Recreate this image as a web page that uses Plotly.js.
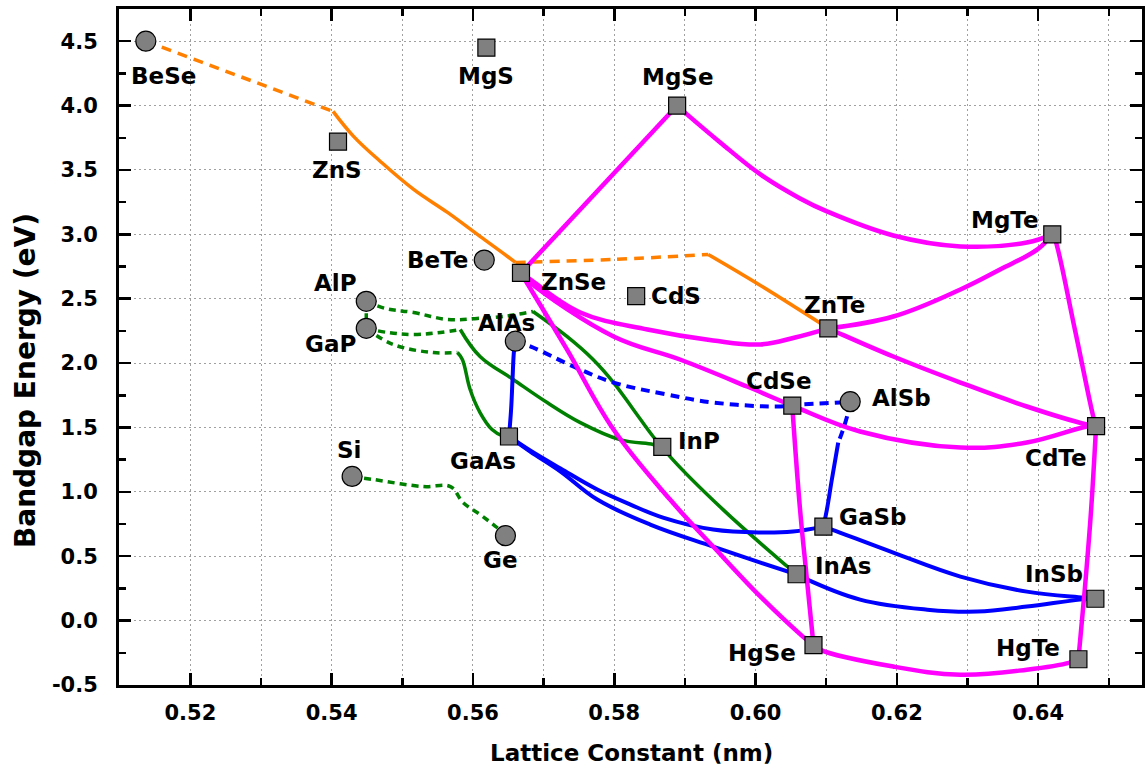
<!DOCTYPE html>
<html>
<head>
<meta charset="utf-8">
<script src="https://cdn.plot.ly/plotly-3.0.1.min.js"></script>
<style>
  html, body { margin: 0; padding: 0; background: #fff; }
  #chart { width: 1146px; height: 772px; }
</style>
</head>
<body>
<div id="chart"></div>
<script>
// Binary semiconductors: lattice constant (nm) and bandgap (eV)
const circleNames = ['BeSe', 'BeTe', 'AlP', 'GaP', 'AlAs', 'AlSb', 'Si', 'Ge'];
const circleA     = [0.5137, 0.5616, 0.5449, 0.5449, 0.5660, 0.6134, 0.5429, 0.5646];
const circleEg    = [4.50, 2.80, 2.48, 2.27, 2.17, 1.70, 1.12, 0.66];

const squareNames = ['ZnS', 'MgS', 'MgSe', 'MgTe', 'ZnSe', 'CdS', 'ZnTe', 'CdSe',
                     'CdTe', 'GaAs', 'InP', 'GaSb', 'InAs', 'InSb', 'HgSe', 'HgTe'];
const squareA     = [0.5409, 0.5619, 0.5889, 0.6420, 0.5668, 0.5831, 0.6103, 0.6052,
                     0.6482, 0.5651, 0.5868, 0.6096, 0.6058, 0.6481, 0.6082, 0.6457];
const squareEg    = [3.72, 4.45, 4.00, 3.00, 2.70, 2.52, 2.27, 1.67,
                     1.51, 1.43, 1.35, 0.73, 0.36, 0.17, -0.19, -0.30];

// Ternary alloy curves (dashed parts = indirect gap)
// Be/Zn chalcogenides
const beseZnsDashA  = [0.5137, 0.5402];
const beseZnsDashEg = [4.50, 3.955];
const znsZnseA  = [0.5402, 0.5431, 0.5469, 0.5516, 0.5564, 0.5610, 0.5649, 0.5660];
const znsZnseEg = [3.955, 3.761, 3.566, 3.349, 3.170, 2.984, 2.828, 2.782];
const znseZnteDashA  = [0.5660, 0.5799, 0.5933];
const znseZnteDashEg = [2.782, 2.805, 2.844];
const znseZnteA  = [0.5933, 0.6007, 0.6103];
const znseZnteEg = [2.844, 2.603, 2.27];

// III-phosphides / arsenides and Si-Ge
const alpGapA  = [0.5449, 0.5449];
const alpGapEg = [2.48, 2.27];
const alpInpDashA  = [0.5449, 0.5476, 0.5516, 0.5564, 0.5606, 0.5643, 0.5685];
const alpInpDashEg = [2.48, 2.424, 2.393, 2.339, 2.347, 2.362, 2.401];
const alpInpA  = [0.5685, 0.5733, 0.5770, 0.5799, 0.5827, 0.5855, 0.5868];
const alpInpEg = [2.401, 2.207, 2.028, 1.849, 1.640, 1.430, 1.35];
const gapInpDashA  = [0.5449, 0.5479, 0.5516, 0.5554, 0.5582];
const gapInpDashEg = [2.27, 2.238, 2.222, 2.238, 2.261];
const gapInpA  = [0.5582, 0.5610, 0.5657, 0.5705, 0.5752, 0.5808, 0.5855, 0.5868];
const gapInpEg = [2.261, 2.051, 1.873, 1.694, 1.538, 1.406, 1.368, 1.35];
const gapGaasDashA  = [0.5449, 0.5487, 0.5544, 0.5578];
const gapGaasDashEg = [2.27, 2.145, 2.082, 2.082];
const gapGaasA  = [0.5578, 0.5585, 0.5596, 0.5610, 0.5627, 0.5643, 0.5651];
const gapGaasEg = [2.082, 2.028, 1.795, 1.616, 1.484, 1.432, 1.43];
const inpInasA  = [0.5868, 0.5879, 0.5954, 0.6045, 0.6058];
const inpInasEg = [1.35, 1.274, 0.862, 0.420, 0.36];
const siGeDashA  = [0.5429, 0.5459, 0.5530, 0.5568, 0.5586, 0.5610, 0.5634, 0.5646];
const siGeDashEg = [1.12, 1.096, 1.041, 1.041, 0.917, 0.824, 0.723, 0.66];

// Arsenides / antimonides
const alasGaasA  = [0.5660, 0.5658, 0.5656, 0.5654, 0.5651];
const alasGaasEg = [2.17, 2.090, 1.873, 1.640, 1.43];
const alasAlsbDashA  = [0.5660, 0.5685, 0.5742, 0.5799, 0.5875, 0.5940, 0.6035, 0.6063, 0.6120, 0.6134];
const alasAlsbDashEg = [2.17, 2.121, 1.974, 1.849, 1.756, 1.694, 1.663, 1.678, 1.694, 1.70];
const alsbGasbDashA  = [0.6134, 0.6131, 0.6123, 0.6117];
const alsbGasbDashEg = [1.70, 1.616, 1.469, 1.383];
const alsbGasbA  = [0.6117, 0.6108, 0.6101, 0.6096];
const alsbGasbEg = [1.383, 1.096, 0.862, 0.73];
const gaasInasA  = [0.5651, 0.5681, 0.5724, 0.5776, 0.5851, 0.5940, 0.6007, 0.6058];
const gaasInasEg = [1.43, 1.313, 1.158, 0.940, 0.746, 0.575, 0.451, 0.36];
const gaasGasbA  = [0.5651, 0.5681, 0.5724, 0.5776, 0.5823, 0.5869, 0.5940, 0.6007, 0.6053, 0.6096];
const gaasGasbEg = [1.43, 1.321, 1.181, 1.018, 0.901, 0.800, 0.707, 0.684, 0.692, 0.73];
const gasbInsbA  = [0.6096, 0.6108, 0.6195, 0.6290, 0.6384, 0.6464, 0.6481];
const gasbInsbEg = [0.73, 0.707, 0.528, 0.342, 0.225, 0.179, 0.17];
const inasInsbA  = [0.6058, 0.6067, 0.6148, 0.6243, 0.6314, 0.6384, 0.6459, 0.6481];
const inasInsbEg = [0.36, 0.334, 0.163, 0.085, 0.070, 0.109, 0.163, 0.17];

// II-VI (Zn, Mg, Cd, Hg chalcogenides)
const znseMgseA  = [0.5668, 0.5889];
const znseMgseEg = [2.70, 4.00];
const mgseMgteA  = [0.5889, 0.5903, 0.5950, 0.6007, 0.6063, 0.6101, 0.6195, 0.6290, 0.6384, 0.6420];
const mgseMgteEg = [4.00, 3.932, 3.714, 3.465, 3.279, 3.178, 2.991, 2.906, 2.937, 3.00];
const znseZnteBowA  = [0.5668, 0.5681, 0.5752, 0.5847, 0.5940, 0.6007, 0.6056, 0.6103];
const znseZnteBowEg = [2.70, 2.650, 2.393, 2.261, 2.176, 2.145, 2.199, 2.27];
const znteMgteA  = [0.6103, 0.6195, 0.6290, 0.6346, 0.6399, 0.6420];
const znteMgteEg = [2.27, 2.362, 2.572, 2.727, 2.883, 3.00];
const znseCdteA  = [0.5668, 0.5681, 0.5799, 0.5893, 0.5988, 0.6052, 0.6148, 0.6290, 0.6384, 0.6469, 0.6482];
const znseCdteEg = [2.70, 2.626, 2.207, 2.028, 1.818, 1.67, 1.469, 1.344, 1.383, 1.507, 1.51];
const znteCdteA  = [0.6103, 0.6116, 0.6195, 0.6290, 0.6384, 0.6469, 0.6482];
const znteCdteEg = [2.27, 2.238, 2.051, 1.849, 1.663, 1.523, 1.51];
const mgteCdteA  = [0.6420, 0.6424, 0.6452, 0.6478, 0.6482];
const mgteCdteEg = [3.00, 2.960, 2.261, 1.585, 1.51];
const cdteHgteA  = [0.6482, 0.6475, 0.6466, 0.6457];
const cdteHgteEg = [1.51, 0.862, 0.241, -0.30];
const cdseHgseA  = [0.6052, 0.6053, 0.6063, 0.6072, 0.6082];
const cdseHgseEg = [1.67, 1.585, 0.862, 0.357, -0.19];
const znseHgseA  = [0.5668, 0.5733, 0.5799, 0.5879, 0.5940, 0.6007, 0.6067, 0.6082];
const znseHgseEg = [2.70, 2.106, 1.484, 0.940, 0.575, 0.186, -0.124, -0.19];
const hgseHgteA  = [0.6082, 0.6091, 0.6195, 0.6290, 0.6384, 0.6445, 0.6457];
const hgseHgteEg = [-0.19, -0.225, -0.357, -0.420, -0.381, -0.326, -0.30];

// Axis ticks
const xTickVals = [0.52, 0.54, 0.56, 0.58, 0.60, 0.62, 0.64];
const xTickText = ['0.52', '0.54', '0.56', '0.58', '0.60', '0.62', '0.64'];
const yTickVals = [-0.5, 0.0, 0.5, 1.0, 1.5, 2.0, 2.5, 3.0, 3.5, 4.0, 4.5];
const yTickText = ['-0.5', '0.0', '0.5', '1.0', '1.5', '2.0', '2.5', '3.0', '3.5', '4.0', '4.5'];

// ---- styling ----
const ORANGE = '#ff8000', GREEN = '#008000', BLUE = '#0000ff', MAGENTA = '#ff00ff';
const DASH = { orange: '10px,7px', green: '7px,5px', blue: '9px,6px' };

function curve(x, y, color, width, dash) {
  return {
    x: x, y: y, type: 'scatter', mode: 'lines', hoverinfo: 'skip', showlegend: false,
    line: { color: color, width: width, dash: dash || 'solid', shape: 'spline', smoothing: 1.1 }
  };
}

const traces = [
  curve(siGeDashA, siGeDashEg, GREEN, 3.5, DASH.green),
  curve(alpGapA, alpGapEg, GREEN, 3.5, DASH.green),
  curve(alpInpDashA, alpInpDashEg, GREEN, 3.5, DASH.green),
  curve(alpInpA, alpInpEg, GREEN, 3.5),
  curve(gapInpDashA, gapInpDashEg, GREEN, 3.5, DASH.green),
  curve(gapInpA, gapInpEg, GREEN, 3.5),
  curve(gapGaasDashA, gapGaasDashEg, GREEN, 3.5, DASH.green),
  curve(gapGaasA, gapGaasEg, GREEN, 3.5),
  curve(inpInasA, inpInasEg, GREEN, 3.5),

  curve(alasGaasA, alasGaasEg, BLUE, 4),
  curve(alasAlsbDashA, alasAlsbDashEg, BLUE, 4, DASH.blue),
  curve(alsbGasbDashA, alsbGasbDashEg, BLUE, 4, DASH.blue),
  curve(alsbGasbA, alsbGasbEg, BLUE, 4),
  curve(gaasInasA, gaasInasEg, BLUE, 4),
  curve(gaasGasbA, gaasGasbEg, BLUE, 4),
  curve(gasbInsbA, gasbInsbEg, BLUE, 4),
  curve(inasInsbA, inasInsbEg, BLUE, 4),

  curve(beseZnsDashA, beseZnsDashEg, ORANGE, 3.5, DASH.orange),
  curve(znsZnseA, znsZnseEg, ORANGE, 3.5),
  curve(znseZnteDashA, znseZnteDashEg, ORANGE, 3.5, DASH.orange),
  curve(znseZnteA, znseZnteEg, ORANGE, 3.5),

  curve(znseMgseA, znseMgseEg, MAGENTA, 4.5),
  curve(mgseMgteA, mgseMgteEg, MAGENTA, 4.5),
  curve(znseZnteBowA, znseZnteBowEg, MAGENTA, 4.5),
  curve(znteMgteA, znteMgteEg, MAGENTA, 4.5),
  curve(znseCdteA, znseCdteEg, MAGENTA, 4.5),
  curve(znteCdteA, znteCdteEg, MAGENTA, 4.5),
  curve(mgteCdteA, mgteCdteEg, MAGENTA, 4.5),
  curve(cdteHgteA, cdteHgteEg, MAGENTA, 4.5),
  curve(cdseHgseA, cdseHgseEg, MAGENTA, 4.5),
  curve(znseHgseA, znseHgseEg, MAGENTA, 4.5),
  curve(hgseHgteA, hgseHgteEg, MAGENTA, 4.5),

  {
    x: circleA, y: circleEg, text: circleNames, type: 'scatter', mode: 'markers',
    hoverinfo: 'text', showlegend: false, cliponaxis: false,
    marker: { symbol: 'circle', size: 20, color: '#808080', line: { color: '#000', width: 1.2 } }
  },
  {
    x: squareA, y: squareEg, text: squareNames, type: 'scatter', mode: 'markers',
    hoverinfo: 'text', showlegend: false, cliponaxis: false,
    marker: { symbol: 'square', size: 17, color: '#808080', line: { color: '#000', width: 1.2 } }
  }
];

// label offsets from each marker, in pixels (right, down)
const labelOffset = {
  BeSe: [18, 35], ZnS: [-1, 28], MgS: [0, 28], MgSe: [1, -29], MgTe: [-47, -14],
  BeTe: [-47, 0], ZnSe: [53, 9], CdS: [40, 0], ZnTe: [6, -23], AlP: [-31, -18],
  GaP: [-36, 16], AlAs: [-9, -18], CdSe: [-13, -25], AlSb: [51, -4], CdTe: [-40, 32],
  GaAs: [-26, 25], InP: [37, -6], Si: [-3, -26], Ge: [-5, 24], GaSb: [49, -10],
  InAs: [46, -8], InSb: [-41, -25], HgSe: [-51, 8], HgTe: [-50, -11]
};

const LABEL_FONT = { family: 'DejaVu Sans, Arial, sans-serif', size: 23, color: '#000', weight: 'bold' };

const annotations = [];
function addLabels(names, xs, ys) {
  names.forEach((n, i) => {
    const off = labelOffset[n] || [0, 0];
    annotations.push({
      x: xs[i], y: ys[i], xref: 'x', yref: 'y', text: n, showarrow: false,
      xshift: off[0], yshift: -off[1], xanchor: 'center', yanchor: 'middle',
      font: LABEL_FONT
    });
  });
}
addLabels(circleNames, circleA, circleEg);
addLabels(squareNames, squareA, squareEg);

annotations.push({
  xref: 'paper', yref: 'paper', x: 0.5005, y: -0.1006, text: 'Lattice Constant (nm)',
  showarrow: false, xanchor: 'center', yanchor: 'middle',
  font: { family: 'DejaVu Sans, Arial, sans-serif', size: 23, color: '#000', weight: 'bold' }
});
annotations.push({
  xref: 'paper', yref: 'paper', x: -0.0919, y: 0.451, text: 'Bandgap Energy (eV)',
  showarrow: false, xanchor: 'center', yanchor: 'middle', textangle: -90,
  font: { family: 'DejaVu Sans, Arial, sans-serif', size: 28, color: '#000', weight: 'bold' }
});

const TICK_FONT = { family: 'DejaVu Sans, Arial, sans-serif', size: 21, color: '#000', weight: 'bold' };
const GRID = { showgrid: true, gridcolor: '#a0a0a0', gridwidth: 1, griddash: '1.5px,3.5px' };

const layout = {
  width: 1146, height: 772,
  margin: { l: 119, r: 4, t: 9, b: 87 },
  paper_bgcolor: '#fff', plot_bgcolor: '#fff',
  showlegend: false,
  xaxis: Object.assign({
    range: [0.5099, 0.6547], tickmode: 'array', tickvals: xTickVals, ticktext: xTickText,
    ticks: 'inside', ticklen: 12, tickwidth: 2.5, tickcolor: '#000',
    showline: true, linewidth: 3, linecolor: '#000', mirror: 'ticks', zeroline: false,
    tickfont: TICK_FONT, ticklabelstandoff: 7,
    minor: Object.assign({ tickmode: 'linear', tick0: 0.51, dtick: 0.01, ticks: 'inside', ticklen: 7,
      tickwidth: 2.5, tickcolor: '#000' }, GRID)
  }, GRID),
  yaxis: Object.assign({
    range: [-0.5, 4.75], tickmode: 'array', tickvals: yTickVals, ticktext: yTickText,
    ticks: 'inside', ticklen: 12, tickwidth: 2.5, tickcolor: '#000',
    showline: true, linewidth: 3, linecolor: '#000', mirror: 'ticks', zeroline: false,
    tickfont: TICK_FONT, ticklabelstandoff: 14,
    minor: { tickmode: 'linear', tick0: 0, dtick: 0.25, ticks: 'inside', ticklen: 7,
      tickwidth: 2.5, tickcolor: '#000', showgrid: false }
  }, GRID),
  annotations: annotations
};

Plotly.newPlot('chart', traces, layout, { displayModeBar: false, staticPlot: true });
</script>
</body>
</html>
